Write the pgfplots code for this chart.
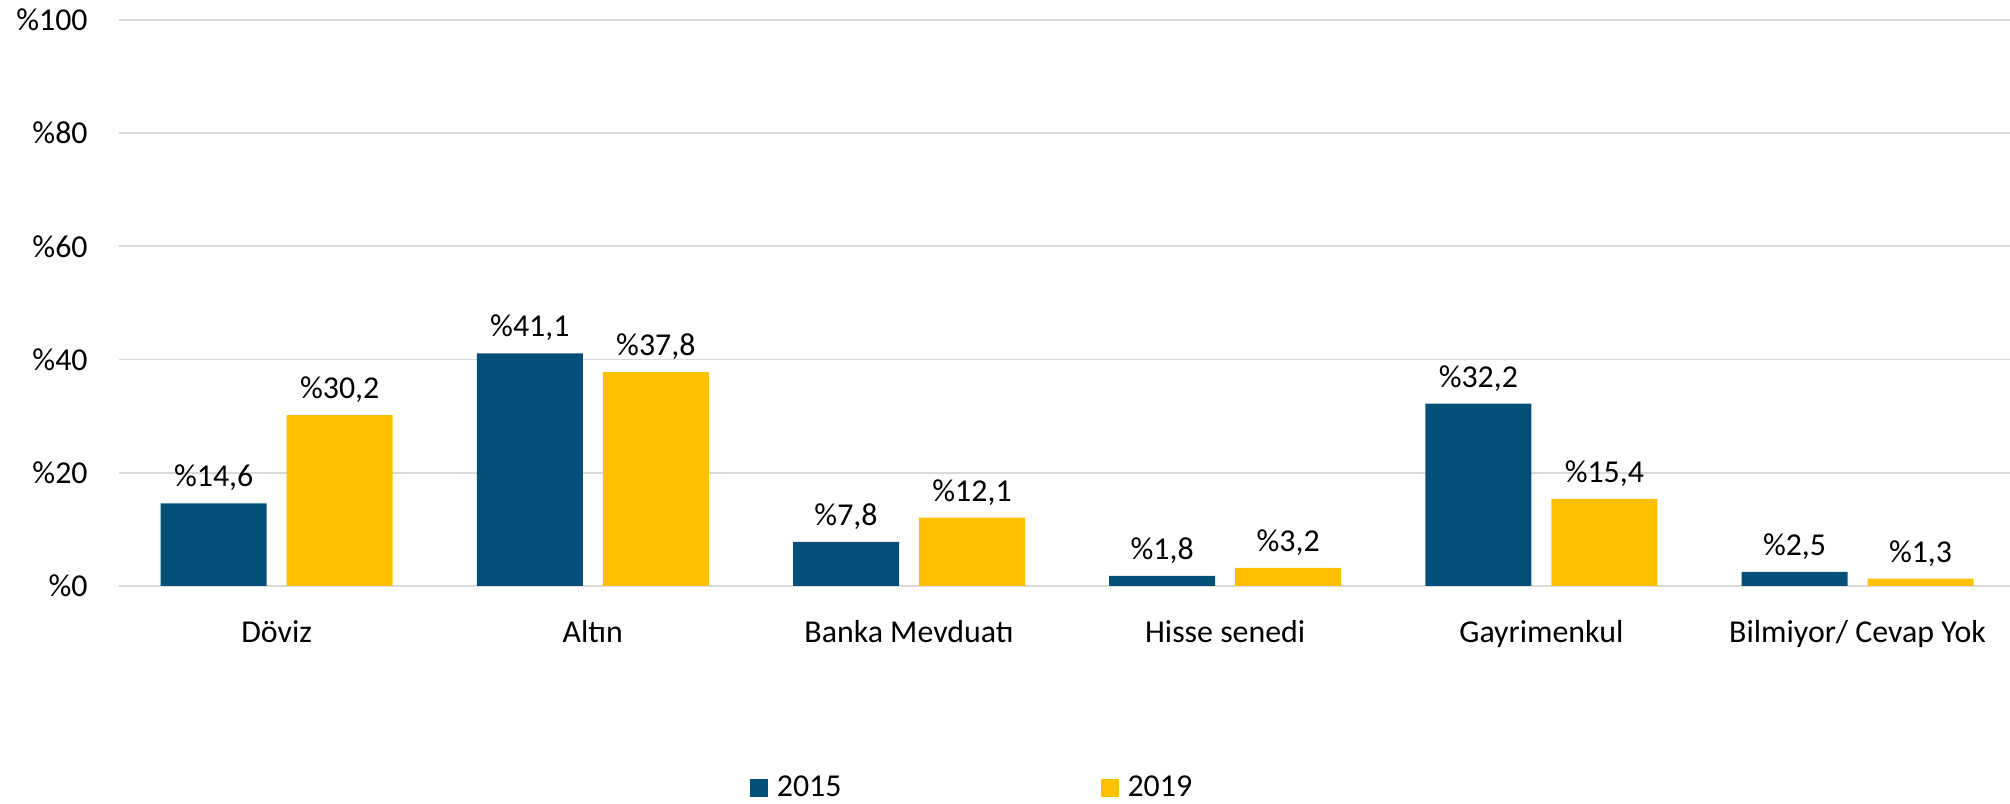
\documentclass[border=0pt]{standalone}
\usepackage{fontspec}
\setmainfont{Carlito}
\usepackage{pgfplots}
\pgfplotsset{compat=1.18}
\definecolor{cblue}{HTML}{025078}
\definecolor{cyellow}{HTML}{FFC000}
\definecolor{cgrid}{HTML}{D9D9D9}
\begin{document}
\fontsize{16}{19}\selectfont
\begin{tikzpicture}
\useasboundingbox (0,0) rectangle (1005bp,402bp);
\begin{axis}[
  at={(59.3bp,109bp)}, anchor=south west,
  scale only axis, width=948.5bp, height=283bp,
  ymin=0, ymax=100,
  ytick={0,20,40,60,80,100},
  yticklabels={\%0,\%20,\%40,\%60,\%80,\%100},
  xmin=-0.5, xmax=5.5,
  xtick={0,1,2,3,4,5},
  xticklabels={Döviz,Altın,Banka Mevduatı,Hisse senedi,Gayrimenkul,Bilmiyor/ Cevap Yok},
  ymajorgrids,
  major grid style={cgrid, line width=0.9bp},
  axis line style={draw=none},
  tick style={draw=none},
  yticklabel style={anchor=east, inner sep=0pt, xshift=-15.3bp},
  xticklabel style={anchor=base, inner sep=0pt, yshift=-24bp},
  ybar=10bp, bar width=53bp,
  every node near coord/.append style={anchor=base, inner sep=0pt, yshift=8.2bp, font=\fontsize{16}{19}\selectfont, text=black},
  nodes near coords={\%\pgfmathprintnumber[fixed,fixed zerofill,precision=1,use comma,assume math mode=true]{\pgfplotspointmeta}},
  legend columns=2,
  legend style={draw=none, fill=none, inner sep=0pt, outer sep=0pt,
    at={(axis description cs:0.3328,-0.357)}, anchor=west,
    nodes={inner sep=0pt, font=\fontsize{16}{19}\selectfont},
    /tikz/every odd column/.append style={column sep=4.5bp},
    /tikz/every even column/.append style={column sep=129.5bp}},
  legend image code/.code={\fill[#1] (0bp,-4.5bp) rectangle (9bp,4.5bp);},
]
\addplot[fill=cblue, draw=none] coordinates {(0,14.6) (1,41.1) (2,7.8) (3,1.8) (4,32.2) (5,2.5)};
\addplot[fill=cyellow, draw=none] coordinates {(0,30.2) (1,37.8) (2,12.1) (3,3.2) (4,15.4) (5,1.3)};
\legend{2015,2019}
\end{axis}
\end{tikzpicture}
\end{document}
